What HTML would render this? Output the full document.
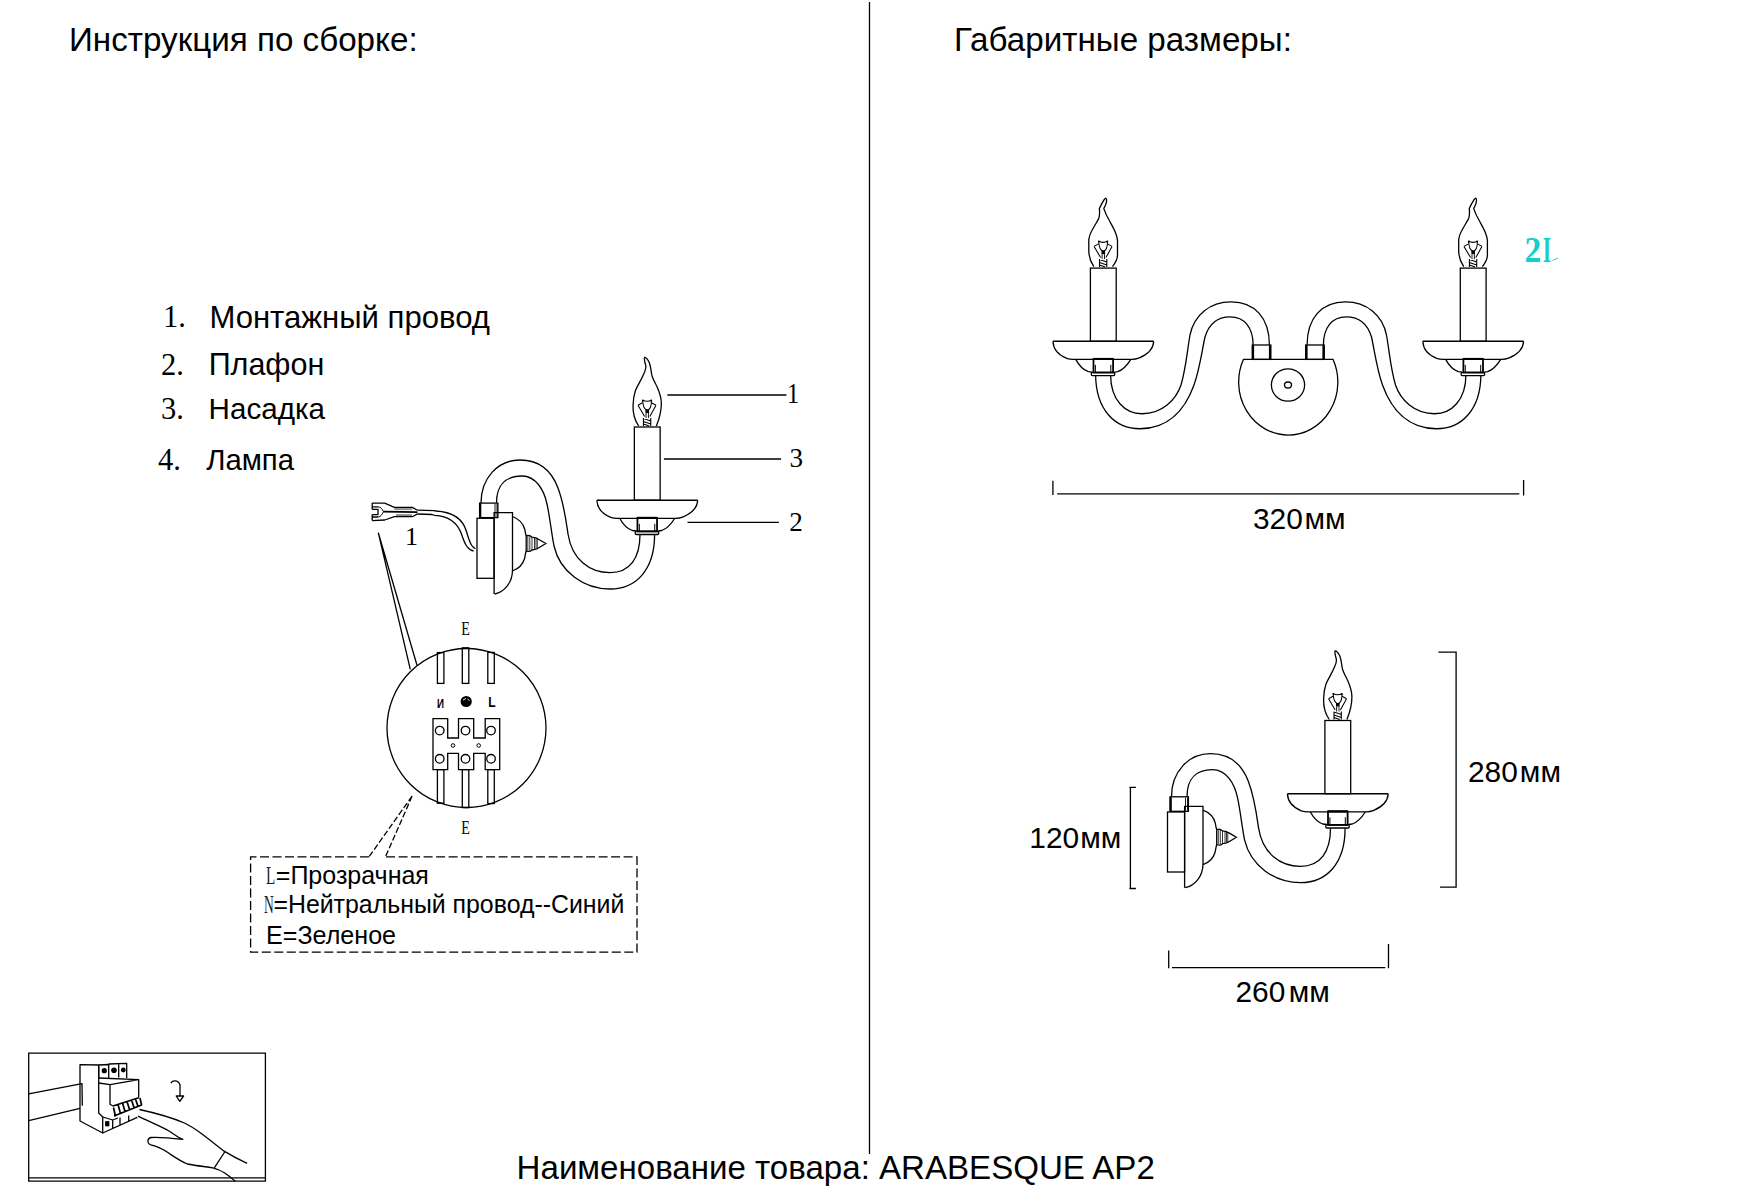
<!DOCTYPE html>
<html>
<head>
<meta charset="utf-8">
<style>
html,body{margin:0;padding:0;background:#fff;}
body{width:1740px;height:1200px;overflow:hidden;position:relative;}
svg{position:absolute;left:0;top:0;}
.s{font-family:"Liberation Sans",sans-serif;fill:#000;}
.r{font-family:"Liberation Serif",serif;fill:#000;}
.ln{fill:none;stroke:#000;stroke-width:1.3;}
</style>
</head>
<body>
<svg width="1740" height="1200" viewBox="0 0 1740 1200">
<defs>
<!-- candle assembly, origin = candle center x, candle top y -->
<g id="candle" class="ln">
  <!-- filament -->
  <path d="M-9.25,-21.7 L-2.6,-10.5 M8.75,-21.7 L2.6,-10.5 M-9.25,-21.7 L-4.8,-24.2 M8.75,-21.7 L4.3,-24.2" stroke-width="1.05"/>
  <path d="M-4.6,-26.8 C-4.4,-21.5 -2.8,-17.5 0,-16.8 C2.8,-17.5 4.3,-21.5 4.2,-26.8 M-4.6,-26.8 Q-0.2,-24.6 4.2,-26.8" stroke-width="1.05"/>
  <circle cx="-4.4" cy="-26.5" r="1" fill="#000" stroke="none"/><circle cx="4" cy="-26.5" r="1" fill="#000" stroke="none"/>
  <rect x="-1.8" y="-17.5" width="3.6" height="3.5" fill="#000" stroke="none"/>
  <path d="M-1.2,-14 L-1.2,-9 M1.2,-14 L1.2,-9" stroke-width="0.9"/>
  <path d="M-3.8,-1 L-3.8,-9 M3.5,-1 L3.5,-9 M-3.8,-8.5 L3.5,-6 M-3.8,-5.5 L3.5,-3 M-3.8,-3 L2,-1" stroke-width="1.1"/>
  <!-- candle body -->
  <rect x="-12.9" y="0" width="25.8" height="73.2"/>
  <!-- dish -->
  <path d="M-50.4,73.2 L50.4,73.2" stroke-width="1.6"/>
  <path d="M-50.4,73.4 C-50,80 -46,86.5 -36.5,90.3 C-34,91.2 -32,91.3 -30,91.3 L28.5,91.3 C31,91.3 33,91 36,89.8 C45,86 50,80 50.4,73.4"/>
  <path d="M-27.4,91.5 C-24.5,97 -20.5,101.5 -15,103.5 L-11,104 M11,104 L14.5,103.5 C20,101.5 24,97 27.4,91.5"/>
  <!-- collar -->
  <rect x="-9.8" y="90.9" width="19.6" height="13.6" stroke-width="1.8"/>
  <path d="M-10,90.8 L9.7,90.8" stroke-width="2"/>
  <path d="M-7.9,96.8 L-7.9,104.4 M7.5,96.8 L7.5,104.4" stroke-width="1"/>
  <rect x="-12" y="104.2" width="23.4" height="3.3" rx="1"/>
</g>
<path id="flameS" class="ln" d="M-8.6,-1 C-12,-6 -14.5,-14 -14.2,-21.7 C-14,-28 -13,-33 -11.9,-36.3 C-9,-43 -6,-47 -4,-52 C-2,-56 -1,-60 -1.6,-62 C-2.5,-65 -3.5,-68 -2.6,-69.7 C-1,-69.5 1,-67 2.1,-64.3 C3.5,-61 3.8,-55 4.8,-51 C6.5,-46 8.5,-43 10,-39.7 C12.5,-34 14,-30 14.1,-24 C14.2,-16 12,-8 9.1,-1"/>
<path id="flameF" class="ln" d="M-9.5,-1.5 C-12.5,-6 -14.5,-12 -14.5,-17 L-14.5,-28.8 C-14,-32 -13,-35 -11.4,-37.6 C-9,-42 -6.5,-46 -4.6,-49.5 C-3.6,-52 -3.6,-56 -3.9,-59.5 C-2.5,-63 -0.5,-66.5 1,-68.8 C1.8,-70 2.6,-70.2 3,-69.2 C3.6,-67.5 3.2,-64 0.5,-59.5 C2,-55 4,-51 6.7,-46.3 C9,-42 11,-38.5 12.3,-35.1 C13.5,-32 14.2,-30 14.2,-27.6 L14.2,-13 C14.2,-9 12,-5 9.2,-1.5"/>
<!-- side-view arm + wall plate, page coords of the left diagram -->
<g id="side" class="ln">
  <!-- arm line A -->
  <path d="M481,503 C481,478 498,460 520,460 C540,460 552,472 558,488 C564,504 566,520 568,534 C572,560 590,572.7 610,572.7 C630,572.7 640,558 640,534.6"/>
  <!-- arm line B -->
  <path d="M496.5,503 C496.5,485 506,476 522,476 C536,476 544,490 547,504 C550,518 551,530 554,546 C560,572 584,589 610,589 C636,589 654.6,570 654.6,534.6"/>
  <!-- top collar -->
  <rect x="479.6" y="503.1" width="18.3" height="14.5"/>
  <path d="M480.2,503.5 L480.2,517.5" stroke-width="2.2"/>
  <path d="M495,504 L495,517 M497,504 L497,517" stroke-width="0.9"/>
  <!-- back plate -->
  <rect x="477" y="518.3" width="17.1" height="60"/>
  <!-- front plate -->
  <path d="M494.1,594 L494.1,512.6 L512.5,512.6 L512.5,570 C512.5,583 504,592 494.8,594"/>
  <!-- dome -->
  <path d="M512.5,516.5 C519,519 523.5,524 524.8,529.5 C525.3,532.5 525.6,534.5 526.2,535.8 M526.2,550.8 C525.6,552.5 525.3,555 524.6,558.5 C523,564 519,568.5 512.5,571"/>
  <!-- screw -->
  <path d="M526.2,535.8 C528,535.2 530.5,535.6 532,537.2 C534,537.4 537,538 538.5,539.2 L545.8,543.5 L538.5,548 C537,549.2 534,549.8 532,550 C530.5,551.5 528,551.6 526.2,550.8 Z"/>
  <path d="M527.8,536 L527.8,550.6 M529.8,536.3 L529.8,550.5 M532,537.3 L532,549.8 M534.5,537.8 L534.5,549.4 M536,538.2 L536,549 M537.3,538.6 L537.3,548.6" stroke-width="0.8"/>
</g>
</defs>

<!-- divider -->
<line x1="869.5" y1="2" x2="869.5" y2="1154" stroke="#000" stroke-width="1.3"/>

<!-- headers -->
<text class="s" x="69" y="50.7" font-size="33.2">Инструкция по сборке:</text>
<text class="s" x="954" y="50.7" font-size="33.2">Габаритные размеры:</text>
<text class="s" x="516.6" y="1178.9" font-size="33.1">Наименование товара: ARABESQUE AP2</text>

<!-- list -->
<text class="r" x="163" y="327" font-size="30.5">1.</text>
<text class="s" x="209.4" y="327.8" font-size="31.1">Монтажный провод</text>
<text class="r" x="161" y="375" font-size="30.5">2.</text>
<text class="s" x="208.7" y="375.2" font-size="30.5">Плафон</text>
<text class="r" x="161" y="419.2" font-size="30.5">3.</text>
<text class="s" x="208.6" y="419.2" font-size="29.6">Насадка</text>
<text class="r" x="158" y="470.2" font-size="30.5">4.</text>
<text class="s" x="206.2" y="470.1" font-size="29.3">Лампа</text>

<!-- left diagram -->
<use href="#side"/>
<use href="#candle" transform="translate(647.25,427)"/><use href="#flameS" transform="translate(647.25,427)"/>
<!-- leaders -->
<g class="ln">
  <path d="M667.4,395 L786.4,395 M663.9,459 L781.1,459 M687.5,522.4 L778.9,522.4"/>
</g>
<text class="r" transform="translate(787,403.3) scale(0.85,1)" font-size="28.5">1</text>
<text class="r" transform="translate(789.5,467) scale(0.97,1)" font-size="28">3</text>
<text class="r" transform="translate(789.2,530.5) scale(0.97,1)" font-size="28">2</text>

<!-- wire and plug -->
<g class="ln" stroke-width="1.1" stroke-linejoin="round">
  <path d="M417.5,510.2 L434,510.6 L436,511 C452,512 462,518 466,530 C469,540 471,547 475.5,548.5"/>
  <path d="M417.5,514 L432,514.5 L434.7,515.4 C448,516 457,522 461.5,534 C465,545 468,550 473.6,551"/>
  <!-- plug body -->
  <path d="M372.2,503.1 L384.7,503.1 L394.4,507.3 L412.3,507.4 L417.5,510.2 M372.2,520.6 L384.7,520 L394.4,516.6 L412.3,516.7 L417.5,513.9"/>
  <path d="M372.2,503.1 L372.2,506.6 L378,506.8 M372.2,509.4 L378,509.4 L378,514.6 L372.2,514.6 M372.2,517 L378,517 M372.2,517 L372.2,520.6 M372.2,506.6 L372.2,509.4 M372.2,514.6 L372.2,517"/>
  <path d="M378,506.8 C381,507 382,509 383.5,511.7 C382,514.5 381,516.8 378,517" stroke-width="1"/>
  <path d="M383.5,511.7 L417.5,512.2" stroke-width="1.8"/>
  <path d="M394.4,508.6 L412,508.7 M394.4,509.6 L412,509.7 M396,514.6 L412,514.7 M396,515.6 L412,515.6" stroke-width="0.7" stroke="#555"/>
</g>
<text class="r" x="405" y="544.5" font-size="26">1</text>
<g class="ln" stroke-width="1.1">
  <path d="M378.3,532.7 L410.3,669.3 M378.3,532.7 L417,665.3"/>
</g>

<!-- connection circle -->
<g class="ln">
  <circle cx="466.5" cy="728" r="79.5"/>
  <rect x="437.4" y="652.6" width="6.5" height="30.8"/>
  <rect x="462.3" y="647.8" width="6.5" height="35.6"/>
  <rect x="487.8" y="652.4" width="6.5" height="31"/>
  <rect x="437.4" y="769.6" width="6.5" height="33.6"/>
  <rect x="462.3" y="769.6" width="6.5" height="38"/>
  <rect x="487.8" y="769.6" width="6.5" height="34"/>
  <path d="M433,718.7 L447.7,718.7 L447.7,738 L458.5,738 L458.5,718.7 L473.7,718.7 L473.7,738 L485.2,738 L485.2,718.7 L499.7,718.7 L499.7,769.6 L485.2,769.6 L485.2,753.4 L473.7,753.4 L473.7,769.6 L458.5,769.6 L458.5,753.4 L447.7,753.4 L447.7,769.6 L433,769.6 Z" fill="#fff"/>
  <circle cx="439.7" cy="730.6" r="4.3"/>
  <circle cx="465.5" cy="730.6" r="4.3"/>
  <circle cx="491" cy="730.6" r="4.3"/>
  <circle cx="439.7" cy="758.8" r="4.3"/>
  <circle cx="465.5" cy="758.8" r="4.3"/>
  <circle cx="491" cy="758.8" r="4.3"/>
  <circle cx="453" cy="745.5" r="1.8" stroke-width="1"/>
  <circle cx="478.7" cy="745.5" r="1.8" stroke-width="1"/>
</g>
<circle cx="466.2" cy="701.5" r="5.6" fill="#000"/><path d="M463,700 L466,698.5 M467.5,699 L469.5,700.5" stroke="#fff" stroke-width="0.9"/>
<text class="s" transform="translate(437,707.8) scale(0.72,1)" font-size="13.6" font-weight="bold">И</text>
<text class="s" transform="translate(488.2,707.2) scale(0.8,1)" font-size="15" font-weight="bold">L</text>
<text class="r" transform="translate(461.3,634.9) scale(0.72,1)" font-size="19.5">E</text>
<text class="r" transform="translate(461.3,833.6) scale(0.72,1)" font-size="19.5">E</text>

<!-- dashed leader + legend box -->
<g class="ln" stroke-width="1.2" stroke-dasharray="6,2.5">
  <path d="M412.1,796.1 L369,856.8 M412.1,796.1 L385.5,856.8"/>
</g>
<g class="ln" stroke-width="1.3" stroke-dasharray="9,3.5">
  <path d="M369,856.8 L250.6,856.8 L250.6,952.2 L637,952.2 L637,856.8 L385.5,856.8"/>
</g>
<text class="r" transform="translate(266,884.3) scale(0.62,1)" font-size="24.5" fill-opacity="0.9">L</text>
<text class="s" x="275.8" y="884.3" font-size="25">=Прозрачная</text>
<text class="r" transform="translate(264,913) scale(0.55,1)" font-size="24.5" fill-opacity="0.9">N</text>
<text class="s" x="273.4" y="913" font-size="24.88">=Нейтральный провод--Синий</text>
<text class="s" x="266" y="944.3" font-size="25.1">E=Зеленое</text>

<!-- front view -->
<g id="farm" class="ln">
  <path d="M1095.6,375 C1096,410 1115,428.75 1140,428.75 C1168,428.75 1185,410 1194,385 C1200,368 1202,350 1205,337 C1209,324 1218,316.9 1230,316.9 C1245,316.9 1253.1,328 1253.1,345"/>
  <path d="M1110.6,375 C1110.6,400 1125,413.75 1142,413.75 C1162,413.75 1176,400 1181,385 C1186,368 1187,352 1190,335 C1194,315 1210,301.9 1231,301.9 C1255,301.9 1269.4,318 1269.4,345"/>
  <rect x="1252.3" y="345" width="18.5" height="14.4"/>
  <path d="M1253,345.5 L1253,359 M1270,345.5 L1270,359" stroke-width="2.2"/>
</g>
<use href="#farm" transform="translate(2576.5,0) scale(-1,1)"/>
<g class="ln">
  <path d="M1243.4,359.4 L1333.1,359.4 A49.6,53 0 1,1 1243.4,359.4 Z"/>
  <ellipse cx="1288" cy="385" rx="16.6" ry="16.2"/>
  <ellipse cx="1288" cy="385" rx="3.5" ry="3"/>
</g>
<use href="#candle" transform="translate(1103.3,268.1)"/><use href="#flameF" transform="translate(1103.3,268.1)"/>
<use href="#candle" transform="translate(1473.2,268.1)"/><use href="#flameF" transform="translate(1473.2,268.1)"/>
<g fill="#14cfc8" font-family="Liberation Serif"><text transform="translate(1524.5,261.5) scale(0.93,1)" font-size="36" font-weight="bold">2</text><text transform="translate(1542.8,261.5) scale(0.6,1)" font-size="36" font-weight="bold">I</text><path d="M1552.5,260.5 L1558,258" stroke="#5fb8b0" stroke-width="1"/></g>
<!-- 320 dim -->
<g class="ln">
  <path d="M1057.2,493.9 L1519.3,493.9 M1052.9,480.7 L1052.9,495 M1523.6,480 L1523.6,495.6"/>
</g>
<g class="s" font-size="29.9"><text x="1252.9" y="529">320</text><text x="1304.55" y="529">мм</text></g>

<!-- side view right -->
<use href="#side" transform="translate(690.5,293.7)"/>
<use href="#candle" transform="translate(1337.8,720.5)"/><use href="#flameS" transform="translate(1337.8,720.5)"/>
<g class="ln">
  <path d="M1438.4,652.2 L1456.1,652.2 L1456.1,887.2 L1440,887.2"/>
  <path d="M1129.4,787.4 L1135.9,787.4 M1130.4,787.4 L1130.4,888.5 M1129.4,888.5 L1135.9,888.5"/>
  <path d="M1172,967.6 L1385.3,967.6 M1168.7,950.6 L1168.7,968.3 M1388.5,944 L1388.5,968.3"/>
</g>
<g class="s" font-size="29.9"><text x="1468" y="781.6">280</text><text x="1519.85" y="781.6">мм</text></g>
<g class="s" font-size="29.9"><text x="1029.35" y="847.8">120</text><text x="1080.15" y="847.8">мм</text></g>
<g class="s" font-size="29.9"><text x="1235.5" y="1001.9">260</text><text x="1288.65" y="1001.9">мм</text></g>

<!-- switch box -->
<g class="ln" stroke-width="1.6">
  <path d="M28.7,1053.2 L265.4,1053.2 L265.4,1181.2 L28.7,1181.2 Z M28.7,1177.8 L265.4,1177.8"/>
</g>
<g class="ln" stroke-width="1.4" stroke-linejoin="round">
  <!-- rail -->
  <path d="M28.7,1093.8 L82,1083.7 L82.3,1105.7 M28.7,1120.7 L80,1108.3"/>
  <!-- side face -->
  <path d="M80,1064.7 L98.7,1065 L98.7,1113 L102.7,1117 L102.7,1133 L80,1121 Z"/>
  <!-- front lower -->
  <path d="M102.7,1117 L112.7,1120 L112.7,1129 M102.7,1133 L137.3,1117.3 M112.7,1120 L118,1118 M120,1117.5 L120,1125.5 M128.7,1115.5 L128.7,1120.7"/>
  <rect x="105.5" y="1121.5" width="3.5" height="4.5" fill="#000" stroke-width="0.8"/>
  <!-- top terminals -->
  <path d="M98.7,1065 L108.7,1064.5 L108.7,1078 M108.7,1064 L126.7,1063.4 L126.7,1078 M118.7,1064 L118.7,1077.5 M98.7,1065 L98.7,1078"/>
  <!-- ledge and upper front -->
  <path d="M98.7,1078 L138.7,1079.7 M98.7,1083 L110,1084.7 L138.7,1079.7 L138.7,1097.7 M110,1084.7 L110,1104.3 L113,1106"/>
  <!-- toggle -->
  <path d="M113,1106 L138.7,1097.7 M113.5,1107.5 L115.5,1116.5 M118,1104.5 L120.5,1113.5 M122.5,1103 L125,1111.5 M127,1101.5 L129.5,1109.5 M131.5,1100 L134,1107.5 M135.5,1099 L138,1106.5 M114,1116 L141.5,1105 L140,1098" stroke-width="1.7"/>
</g>
<g fill="#000">
  <circle cx="104.3" cy="1070.7" r="2.6"/>
  <circle cx="114" cy="1070.3" r="2.8"/>
  <circle cx="123.3" cy="1070" r="2.4"/>
</g>
<g class="ln" stroke-width="1.3" stroke-linejoin="round">
  <!-- hand -->
  <path d="M139.5,1109.5 C160,1114 175,1119 184.4,1123 C195,1128 205,1136 223.2,1150.6 C232,1156 240,1160 247.1,1163.3"/>
  <path d="M138,1116.2 C150,1122 162,1127 169.4,1131.2 C175,1135 179,1138 182.9,1139.4 C175,1138.5 160,1137 151,1137.5 C147,1138.5 147,1143 150,1144.6 C154,1145.5 162,1148 169.4,1153.6 C176,1158 182,1162 187.4,1164 C197,1166 205,1166.5 212.8,1167.8 C222,1170 228,1175 235.2,1181.2"/>
  <path d="M224.7,1152 L214.3,1167.8"/>
  <!-- arrow -->
  <path d="M171,1083.3 C172,1080 178,1079.5 180,1084.8 L180,1096"/>
  <path d="M176.2,1096 L183.6,1096 L179.8,1101.3 Z"/>
</g>
</svg>
</body>
</html>
